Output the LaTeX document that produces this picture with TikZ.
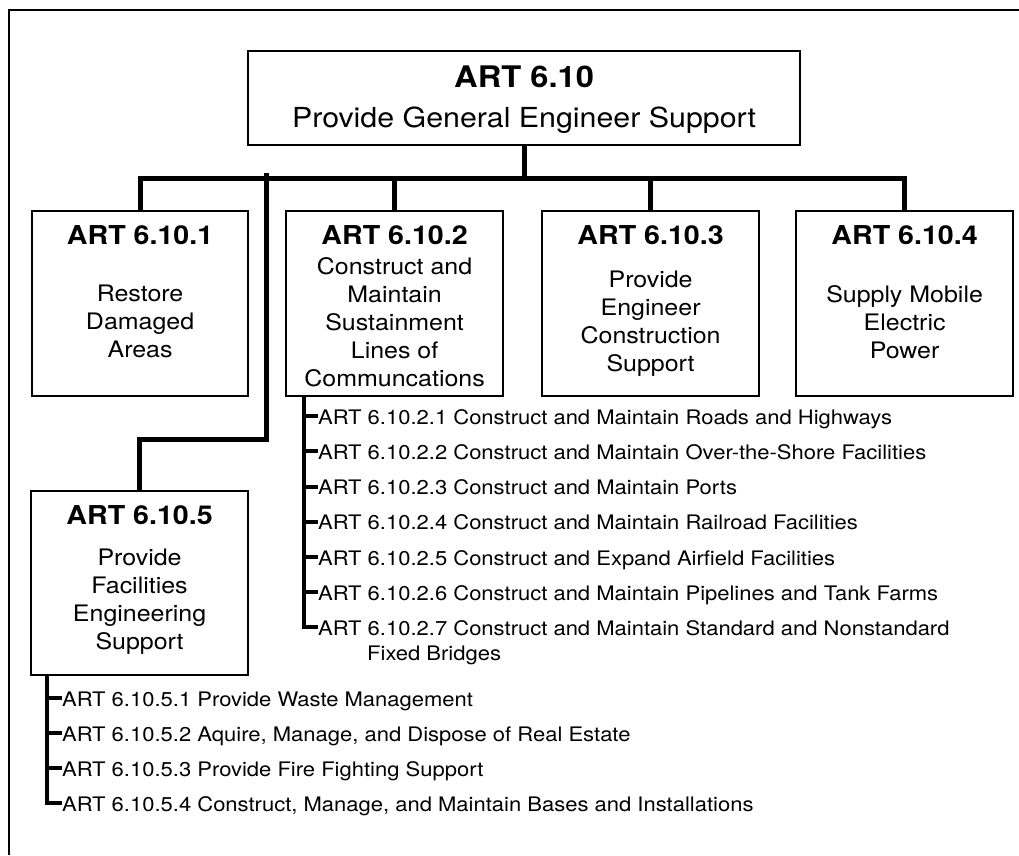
\documentclass[tikz,border=0pt]{standalone}
\usepackage{fontspec}
\setmainfont[FakeStretch=1.1]{TeX Gyre Heros}
\tikzset{
  frameline/.style={line width=1.5pt},
  box/.style={draw, line width=2.2pt, inner sep=0pt, anchor=north west},
  conn/.style={line width=5pt, line join=miter},
  spine/.style={line width=4pt, line join=miter},
  toptitle/.style={font=\fontsize{29.7}{35}\selectfont\bfseries, anchor=base, inner sep=0pt},
  topsub/.style={font=\fontsize{27.6}{33}\selectfont, anchor=base, inner sep=0pt},
  ttl/.style={font=\fontsize{26}{31}\selectfont\bfseries, anchor=base, inner sep=0pt},
  bod/.style={font=\fontsize{22.7}{28}\selectfont, align=center, anchor=north, inner sep=0pt},
  itm/.style={font=\fontsize{20}{25}\selectfont, anchor=base west, inner sep=0pt, text height=16pt, text depth=0pt},
}
\begin{document}
\begin{tikzpicture}[x=1pt,y=-1pt]
\useasboundingbox (0,0) rectangle (1019,855);
% outer frame (left and top edges only)
\draw[frameline] (9,855) -- (9,10) -- (1019,10);

% boxes
\node[box, minimum width=552pt, minimum height=94pt] (top) at (247,50) {};
\node[box, minimum width=216pt, minimum height=185pt] (b1) at (31,210) {};
\node[box, minimum width=217pt, minimum height=185pt] (b2) at (285,210) {};
\node[box, minimum width=217pt, minimum height=185pt] (b3) at (541,210) {};
\node[box, minimum width=217pt, minimum height=185pt] (b4) at (795,210) {};
\node[box, minimum width=217pt, minimum height=184pt] (b5) at (30,490) {};

% box texts
\node[toptitle] (t0) at (top.center |- 0,87) {ART 6.10};
\node[topsub] (t0s) at (top.center |- 0,127.5) {Provide General Engineer Support};

\node[ttl] (t1) at (b1.center |- 0,244) {ART 6.10.1};
\node[ttl] (t2) at (b2.center |- 0,244) {ART 6.10.2};
\node[ttl] (t3) at (b3.center |- 0,244) {ART 6.10.3};
\node[ttl] (t4) at (b4.center |- 0,244) {ART 6.10.4};
\node[ttl] (t5) at (b5.center |- 0,524) {ART 6.10.5};

\node[bod] (d1) at (b1.center |- 0,285.2) {Restore\\Damaged\\Areas};
\node[bod] (d2) at (b2.center |- 0,257.7) {Construct and\\Maintain\\Sustainment\\Lines of\\Communcations};
\node[bod] (d3) at (b3.center |- 0,270.5) {Provide\\Engineer\\Construction\\Support};
\node[bod] (d4) at (b4.center |- 0,285.2) {Supply Mobile\\Electric\\Power};
\node[bod] (d5) at (b5.center |- 0,548.7) {Provide\\Facilities\\Engineering\\Support};

% main connectors
\coordinate (bar) at (0,178);
\draw[conn] (b1.north) -- (b1.north |- bar) -- (b4.north |- bar) -- (b4.north);
\draw[conn] (top.south) -- (top.south |- bar);
\draw[conn] (b2.north) -- (b2.north |- bar);
\draw[conn] (b3.north) -- (b3.north |- bar);
\coordinate (j5) at (266,173);
\coordinate (k5) at (266,439);
\draw[conn] (j5) -- (k5) -| (b5.north);

% 6.10.2 sub-tasks
\node[itm] (s1) at (318,424) {ART 6.10.2.1 Construct and Maintain Roads and Highways};
\node[itm] (s2) at (318,459) {ART 6.10.2.2 Construct and Maintain Over-the-Shore Facilities};
\node[itm] (s3) at (318,494.5) {ART 6.10.2.3 Construct and Maintain Ports};
\node[itm] (s4) at (318,529.5) {ART 6.10.2.4 Construct and Maintain Railroad Facilities};
\node[itm] (s5) at (318,565) {ART 6.10.2.5 Construct and Expand Airfield Facilities};
\node[itm] (s6) at (318,600) {ART 6.10.2.6 Construct and Maintain Pipelines and Tank Farms};
\node[itm] (s7) at (318,635) {ART 6.10.2.7 Construct and Maintain Standard and Nonstandard};
\node[itm] (s7b) at (367,660) {Fixed Bridges};
\coordinate (sp2) at (304,395);
\draw[spine] (sp2) |- (s7.west);
\foreach \n in {s1,s2,s3,s4,s5,s6}{
  \draw[spine] (sp2 |- \n.west) -- (\n.west);
}

% 6.10.5 sub-tasks
\node[itm] (f1) at (62,706) {ART 6.10.5.1 Provide Waste Management};
\node[itm] (f2) at (62,741) {ART 6.10.5.2 Aquire, Manage, and Dispose of Real Estate};
\node[itm] (f3) at (62,776) {ART 6.10.5.3 Provide Fire Fighting Support};
\node[itm] (f4) at (62,811) {ART 6.10.5.4 Construct, Manage, and Maintain Bases and Installations};
\coordinate (sp5) at (47,674);
\draw[spine] (sp5) |- (f4.west);
\foreach \n in {f1,f2,f3}{
  \draw[spine] (sp5 |- \n.west) -- (\n.west);
}
\end{tikzpicture}
\end{document}
